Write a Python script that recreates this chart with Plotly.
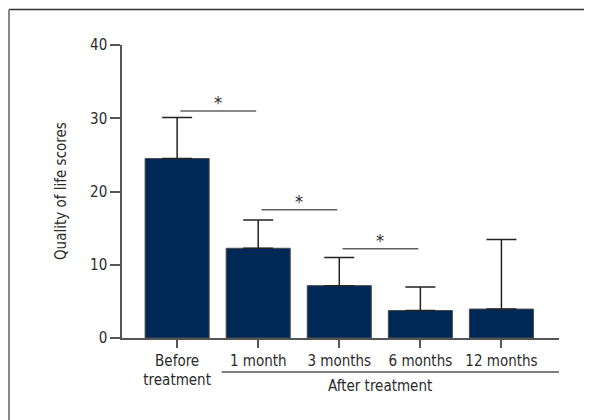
import plotly.graph_objects as go

# ---- data ----
categories = ["Before<br>treatment", "1 month", "3 months", "6 months", "12 months"]
means = [24.5, 12.25, 7.15, 3.75, 3.95]
sd = [5.6, 3.85, 3.85, 3.2, 9.5]
sig_from = [0, 1, 2]          # comparison start (category index)
sig_to = [1, 2, 3]            # comparison end (category index)
sig_y = [31.0, 17.5, 12.2]    # bracket height (score)
sig_label = ["*", "*", "*"]
group_label = "After treatment"
group_members = [1, 2, 3, 4]
y_ticks = [0, 10, 20, 30, 40]

# ---- layout constants ----
# the page body has an 8px margin, so the figure is drawn 8px in from the window edge
OFF = 8
W, H = 592 - OFF, 420 - OFF
L, R, T, B = 114, 33, 37, 82
PW, PH = W - L - R, H - T - B
FONT = "DejaVu Sans Condensed, Liberation Sans Narrow, Arial Narrow, sans-serif"
FS = 15
TXT = "#2b2b2b"
AX = "#555555"
BAR = "#002856"


def px2x(px):
    """window pixel -> paper x"""
    return (px - OFF - L) / PW


def px2y(py):
    """window pixel -> paper y"""
    return (H - B - (py - OFF)) / PH


xs = list(range(len(categories)))

fig = go.Figure()
fig.add_trace(go.Bar(
    x=xs, y=means, width=0.79,
    marker=dict(color=BAR, line=dict(color="#4a4a4a", width=1)),
    error_y=dict(type="data", array=sd, arrayminus=[0] * len(sd), symmetric=False,
                 color="#222222", thickness=1.5, width=15),
    hoverinfo="skip",
))

shapes = []
annotations = []
for a, b, yv, lab in zip(sig_from, sig_to, sig_y, sig_label):
    x0, x1 = a + 0.04, b - 0.025
    shapes.append(dict(type="line", xref="x", yref="y", x0=x0, x1=x1, y0=yv, y1=yv,
                       line=dict(color="#606060", width=1.5)))
    annotations.append(dict(x=(x0 + x1) / 2, y=yv, xref="x", yref="y", text=lab,
                            showarrow=False, yanchor="middle", yshift=8,
                            font=dict(family=FONT, size=18, color=TXT)))

# group bracket under the tick labels
shapes.append(dict(type="line", xref="x", yref="paper", x0=group_members[0] - 0.45,
                   x1=group_members[-1] + 0.72, y0=px2y(372), y1=px2y(372),
                   line=dict(color=AX, width=1.5)))
annotations.append(dict(x=(group_members[0] + group_members[-1]) / 2, y=px2y(386),
                        xref="x", yref="paper", text=group_label, showarrow=False,
                        yanchor="middle", font=dict(family=FONT, size=FS, color=TXT)))

# y title
annotations.append(dict(x=px2x(60.5), y=px2y(191.5), xref="paper", yref="paper",
                        text="Quality of life scores", textangle=-90, showarrow=False,
                        xanchor="center", yanchor="middle",
                        font=dict(family=FONT, size=FS, color=TXT)))

# frame (top and left edges)
shapes.append(dict(type="line", xref="paper", yref="paper", x0=px2x(9), x1=px2x(592),
                   y0=px2y(9.5), y1=px2y(9.5), line=dict(color="#333333", width=1.5)))
shapes.append(dict(type="line", xref="paper", yref="paper", x0=px2x(9), x1=px2x(9),
                   y0=px2y(9.5), y1=px2y(420), line=dict(color="#888888", width=2)))

fig.update_layout(
    width=W, height=H,
    margin=dict(l=L, r=R, t=T, b=B, autoexpand=False),
    paper_bgcolor="white", plot_bgcolor="white",
    showlegend=False,
    shapes=shapes, annotations=annotations,
    font=dict(family=FONT, size=FS, color=TXT),
    xaxis=dict(range=[-0.68, 4.71], tickvals=xs, ticktext=categories,
               showline=True, linecolor=AX, linewidth=1.5,
               ticks="outside", ticklen=8, tickwidth=1.5, tickcolor=AX,
               showgrid=False, zeroline=False, fixedrange=True,
               tickfont=dict(family=FONT, size=FS, color=TXT)),
    yaxis=dict(range=[0, 40], tickvals=y_ticks,
               showline=True, linecolor=AX, linewidth=1.5,
               ticks="outside", ticklen=10, tickwidth=1.5, tickcolor=AX,
               showgrid=False, zeroline=False, fixedrange=True,
               tickfont=dict(family=FONT, size=FS, color=TXT)),
)

fig.write_html("out.html")
